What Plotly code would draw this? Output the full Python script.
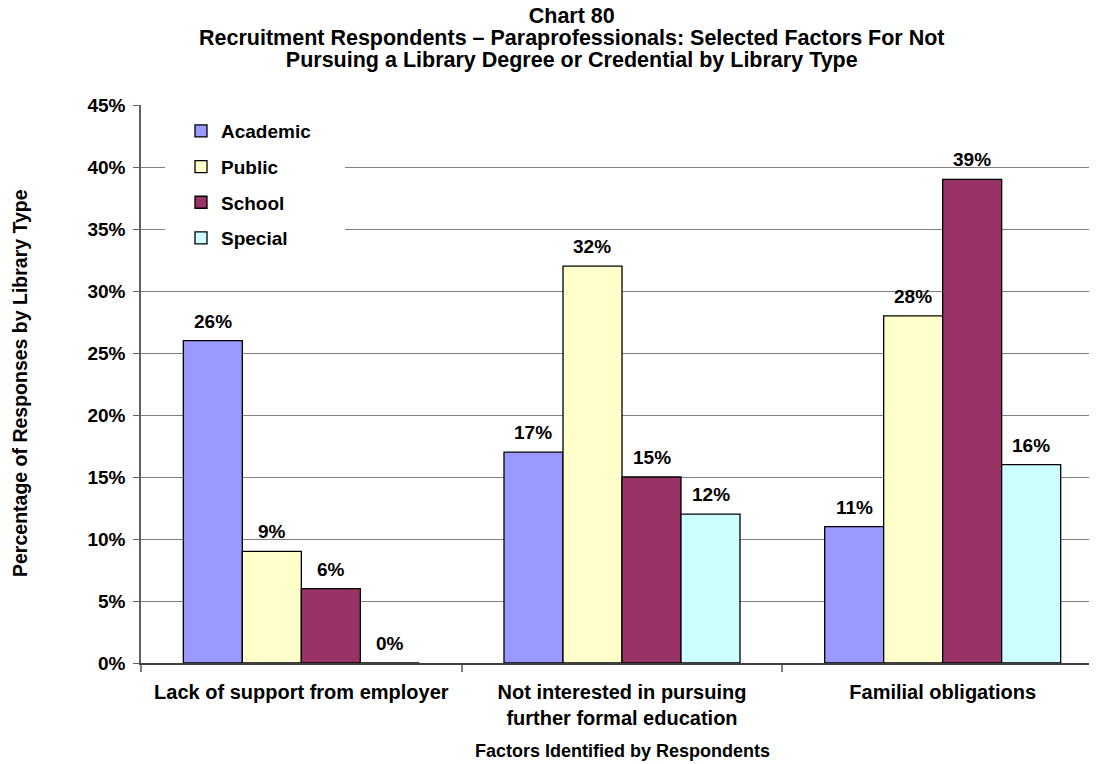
import plotly.graph_objects as go

# ---- data ----
categories = ["Lack of support from employer",
              "Not interested in pursuing<br>further formal education",
              "Familial obligations"]
series_names = ["Academic", "Public", "School", "Special"]
academic = [0.26, 0.17, 0.11]
public = [0.09, 0.32, 0.28]
school = [0.06, 0.15, 0.39]
special = [0.00, 0.12, 0.16]
series_values = [academic, public, school, special]
y_tick_vals = [0, 0.05, 0.10, 0.15, 0.20, 0.25, 0.30, 0.35, 0.40, 0.45]
title_lines = ["Chart 80",
               "Recruitment Respondents \u2013 Paraprofessionals: Selected Factors For Not",
               "Pursuing a Library Degree or Credential by Library Type"]
x_title = "Factors Identified by Respondents"
y_title = "Percentage of Responses by Library Type"

# ---- styles ----
colors = ["#9999FF", "#FFFFCC", "#993366", "#CCFFFF"]
FONT = "Liberation Sans, Arial, sans-serif"
W, H = 1097, 764
OFF = 8  # page body margin
ML, MR, MT, MB = 133, 2, 97, 109
PW, PH = W - ML - MR, H - MT - MB
BARGAP = 0.264
X_RANGE = [-0.5, 2.5]
cat_px = PW / (X_RANGE[1] - X_RANGE[0])
bar_px = cat_px * (1 - BARGAP) / len(series_names)


def px_x(sx):
    return (sx - OFF - ML) / PW


def px_y(sy):
    return (H - MB - (sy - OFF)) / PH


fig = go.Figure()
for name, vals, col in zip(series_names, series_values, colors):
    fig.add_trace(go.Bar(
        name=name, x=list(range(len(categories))), y=vals,
        marker=dict(color=col, line=dict(color="#000000", width=1.3)),
        legendgroup=name,
    ))

annotations = []
# data labels
for k, vals in enumerate(series_values):
    for i, v in enumerate(vals):
        annotations.append(dict(
            x=i, y=v, xref="x", yref="y", text="{:.0%}".format(v),
            showarrow=False, yanchor="bottom", xanchor="center",
            xshift=(k - 1.5) * bar_px, yshift=7,
            font=dict(family=FONT, size=19, color="#000000", weight="bold"),
        ))
# title: one text block, tight line spacing (base size 17 -> 22px lines)
title_text = "<br>".join(
    "<span style='font-size:21.5px'>{}</span>".format(t) for t in title_lines)
annotations.append(dict(
    x=px_x(572), y=px_y(38), xref="paper", yref="paper", text=title_text,
    showarrow=False, xanchor="center", yanchor="middle", align="center",
    font=dict(family=FONT, size=17, color="#000000", weight="bold"),
))
# axis titles
annotations.append(dict(
    x=px_x(622), y=px_y(751), xref="paper", yref="paper", text=x_title,
    showarrow=False, xanchor="center", yanchor="middle",
    font=dict(family=FONT, size=18, color="#000000", weight="bold"),
))
annotations.append(dict(
    x=px_x(20), y=px_y(383), xref="paper", yref="paper", text=y_title,
    showarrow=False, xanchor="center", yanchor="middle", textangle=-90,
    font=dict(family=FONT, size=19.5, color="#000000", weight="bold"),
))

fig.update_layout(
    width=W, height=H,
    margin=dict(l=ML, r=MR, t=MT, b=MB, autoexpand=False),
    paper_bgcolor="#FFFFFF", plot_bgcolor="#FFFFFF",
    barmode="group", bargap=BARGAP, bargroupgap=0,
    font=dict(family=FONT, size=19, color="#000000", weight="bold"),
    showlegend=True,
    legend=dict(
        x=px_x(181), y=px_y(112), xanchor="left", yanchor="top",
        bgcolor="rgba(0,0,0,0)", borderwidth=0,
        traceorder="grouped", tracegroupgap=8,
        font=dict(family=FONT, size=19, color="#000000", weight="bold"),
    ),
    annotations=annotations,
    shapes=[dict(
        type="rect", xref="paper", yref="paper",
        x0=px_x(165), x1=px_x(345), y0=px_y(256), y1=px_y(110),
        fillcolor="#FFFFFF", line=dict(width=0), layer="above",
    )],
)

fig.update_xaxes(
    type="linear", range=X_RANGE,
    tickmode="array", tickvals=list(range(len(categories))), ticktext=categories,
    ticks="", showgrid=False, zeroline=False,
    showline=True, linecolor="#404040", linewidth=1.5,
    tickfont=dict(family=FONT, size=20, color="#000000", weight="bold"),
    ticklabelstandoff=10,
)
# boundary tick marks between categories via minor ticks
fig.update_xaxes(minor=dict(tickmode="array", tickvals=[-0.5, 0.5, 1.5],
                            ticks="outside", ticklen=7, tickcolor="#808080",
                            tickwidth=1.5, showgrid=False))

fig.update_yaxes(
    range=[0, 0.45], tickmode="array", tickvals=y_tick_vals,
    tickformat=".0%",
    ticks="outside", ticklen=6, tickcolor="#606060", tickwidth=1,
    showgrid=True, gridcolor="#808080", gridwidth=1,
    zeroline=False, showline=True, linecolor="#606060", linewidth=1.5,
    tickfont=dict(family=FONT, size=19, color="#000000", weight="bold"),
    ticklabelstandoff=4,
)

fig.write_html("out.html")
